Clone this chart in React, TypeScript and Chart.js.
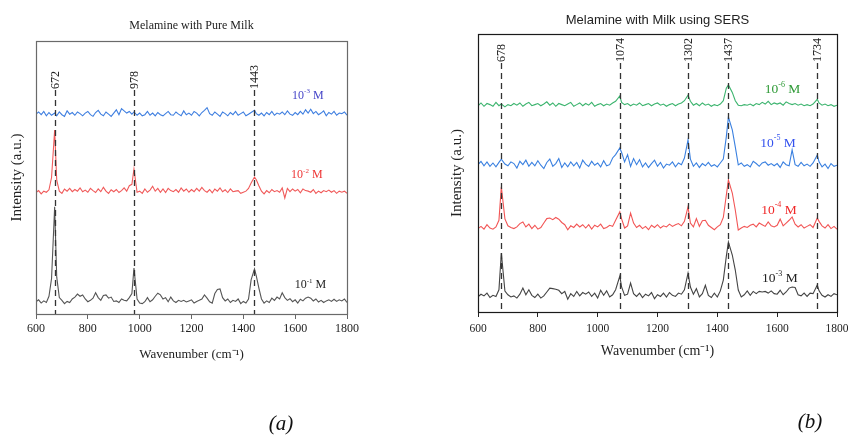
import React, { useEffect, useRef } from "react";
import { Chart, registerables } from "chart.js";

Chart.register(...registerables);

const SERIF = "'Liberation Serif', 'Times New Roman', serif";
const SANS = "'Liberation Sans', Arial, sans-serif";

// ---------- Panel (a): Melamine with Pure Milk ----------
const wavenumbersA = [
  600, 610, 620, 630, 640, 650, 660, 672, 680, 690,
  700, 710, 720, 730, 740, 750, 760, 770, 780, 790,
  800, 810, 820, 830, 840, 850, 860, 870, 880, 890,
  900, 910, 920, 930, 940, 950, 960, 970, 978, 990,
  1000, 1010, 1020, 1030, 1040, 1050, 1060, 1070, 1080, 1090,
  1100, 1110, 1120, 1130, 1140, 1150, 1160, 1170, 1180, 1190,
  1200, 1210, 1220, 1230, 1240, 1250, 1260, 1270, 1280, 1290,
  1300, 1310, 1320, 1330, 1340, 1350, 1360, 1370, 1380, 1390,
  1400, 1410, 1420, 1430, 1443, 1450, 1460, 1470, 1480, 1490,
  1500, 1510, 1520, 1530, 1540, 1550, 1560, 1570, 1580, 1590,
  1600, 1610, 1620, 1630, 1640, 1650, 1660, 1670, 1680, 1690,
  1700, 1710, 1720, 1730, 1740, 1750, 1760, 1770, 1780, 1790,
  1800,
];

const milk_1e1 = [
  4.5, 5.2, 4.0, 4.8, 4.2, 6.5, 13.0, 39.3, 13.5, 6.0,
  5.0, 3.8, 4.6, 4.2, 5.5, 6.2, 7.3, 6.5, 7.0, 5.5,
  4.5, 5.0, 5.8, 7.8, 6.0, 5.0, 6.8, 7.0, 5.8, 6.2,
  4.6, 4.8, 4.2, 5.5, 5.0, 4.8, 6.0, 7.5, 16.8, 5.5,
  4.0, 3.8, 4.5, 6.0, 4.5, 5.2, 6.5, 7.6, 7.0, 5.5,
  6.0, 4.5, 6.2, 4.8, 4.2, 5.0, 4.6, 5.0, 4.4, 4.8,
  5.2, 4.0, 4.6, 5.0, 5.5, 7.0, 5.8, 4.5, 4.0, 7.5,
  9.0, 9.2, 6.0, 4.8, 5.5, 4.2, 5.0, 4.6, 5.5, 3.8,
  4.6, 4.0, 5.5, 12.5, 16.5, 14.0, 9.5, 5.5, 4.0, 4.8,
  4.2, 5.8, 5.0, 6.2, 5.5, 7.8, 6.0, 5.0, 5.6, 4.5,
  5.2, 4.0, 5.4, 4.8, 5.8, 6.2, 5.8, 4.8, 5.5, 4.4,
  5.0, 4.2, 4.8, 5.2, 4.6, 5.4, 4.6, 5.2, 4.8, 5.5,
  4.2,
];

const milk_1e2 = [
  44.5, 45.2, 44.0, 45.0, 44.6, 45.5, 50.0, 67.4, 49.0, 45.0,
  44.2, 45.8, 45.0, 46.0, 44.8, 45.6, 45.0, 46.2, 44.8, 45.4,
  44.6, 46.0, 45.2, 44.5, 45.8, 44.8, 46.4, 45.0, 44.2, 45.5,
  44.8, 45.6, 44.5, 45.2, 46.2, 45.0, 47.0, 47.5, 53.1, 44.6,
  45.0, 44.2, 45.8, 44.6, 45.4, 46.8, 45.0, 46.0, 44.6, 45.8,
  44.5, 46.0, 45.2, 44.8, 45.6, 44.6, 46.2, 45.0, 45.8, 44.6,
  45.6, 44.8, 46.0, 45.0, 46.4, 45.2, 44.6, 45.6, 44.4, 45.8,
  45.0, 46.2, 44.8, 45.5, 44.5, 45.8, 44.8, 45.0, 45.2, 44.2,
  44.6, 45.0, 46.0, 48.0, 50.2, 49.2, 47.0, 45.0, 44.0, 45.2,
  44.4, 45.6, 44.8, 45.2, 44.6, 46.2, 42.5, 46.0, 44.8, 45.8,
  45.0, 45.6, 44.4, 45.8, 45.2, 45.0, 44.6, 45.6, 44.2, 45.0,
  44.4, 45.2, 44.8, 45.4, 44.6, 45.2, 44.2, 45.0, 44.6, 45.0,
  44.2,
];

const milk_1e3 = [
  73.2, 74.0, 73.0, 74.2, 72.6, 73.8, 72.8, 73.6, 72.6, 74.0,
  73.0, 72.4, 74.4, 73.2, 73.8, 72.8, 74.0, 73.4, 72.6, 73.6,
  74.2, 73.0, 72.4, 73.8, 74.6, 73.2, 72.6, 74.0, 73.2, 72.4,
  73.6, 74.8, 73.0, 75.2, 74.4, 73.6, 74.2, 73.2, 74.0, 72.8,
  73.6, 72.6, 73.0, 74.2, 72.8, 73.6, 72.6, 73.8, 73.0, 72.6,
  73.4, 74.2, 73.0, 72.8, 74.0, 73.2, 72.6, 74.4, 73.0, 73.6,
  72.8, 74.2, 73.6, 72.6, 73.8, 74.6, 75.6, 73.4, 72.8, 74.0,
  73.2, 72.4, 74.0, 73.4, 72.6, 73.8, 73.0, 74.2, 72.8, 73.4,
  74.0, 72.6, 73.2, 73.8, 74.6, 73.4, 72.8, 73.6, 72.6, 73.8,
  73.0, 74.2, 72.8, 73.6, 73.2, 74.0, 73.0, 74.4, 73.2, 72.8,
  73.8, 73.0, 74.2, 73.2, 74.8, 73.6, 75.0, 73.4, 74.2, 73.0,
  73.6, 74.4, 72.6, 73.8, 73.2, 74.2, 72.8, 73.6, 73.4, 74.0,
  72.8,
];

const peaksA = [672, 978, 1443];

// ---------- Panel (b): Melamine with Milk using SERS ----------
const wavenumbersB = [
  600, 610, 620, 630, 640, 650, 660, 670, 678, 690,
  700, 710, 720, 730, 740, 750, 760, 770, 780, 790,
  800, 810, 820, 830, 840, 850, 860, 870, 880, 890,
  900, 910, 920, 930, 940, 950, 960, 970, 980, 990,
  1000, 1010, 1020, 1030, 1040, 1050, 1060, 1074, 1080, 1090,
  1100, 1110, 1120, 1130, 1140, 1150, 1160, 1170, 1180, 1190,
  1200, 1210, 1220, 1230, 1240, 1250, 1260, 1270, 1280, 1290,
  1302, 1310, 1320, 1330, 1340, 1350, 1360, 1370, 1380, 1390,
  1400, 1410, 1420, 1430, 1437, 1450, 1460, 1470, 1480, 1490,
  1500, 1510, 1520, 1530, 1540, 1550, 1560, 1570, 1580, 1590,
  1600, 1610, 1620, 1630, 1640, 1650, 1660, 1670, 1680, 1690,
  1700, 1710, 1720, 1734, 1740, 1750, 1760, 1770, 1780, 1790,
  1800,
];

const sers_1e3 = [
  5.5, 6.4, 5.8, 6.8, 5.2, 6.0, 5.6, 8.0, 21.2, 7.5,
  6.2, 5.4, 5.8, 5.0, 6.4, 8.6, 6.2, 8.0, 6.0, 5.2,
  6.4, 5.0, 5.8, 7.2, 8.6, 8.4, 8.2, 7.8, 6.6, 7.4,
  4.6, 6.6, 5.6, 7.4, 5.8, 7.0, 6.4, 7.2, 5.6, 6.8,
  5.0, 7.8, 6.0, 7.6, 5.4, 6.2, 8.0, 12.9, 9.0, 6.0,
  6.4, 10.4, 6.6, 5.6, 6.8, 5.2, 6.4, 5.8, 7.0, 4.8,
  6.2, 5.6, 6.8, 5.4, 7.0, 6.0, 5.6, 6.8, 6.4, 8.0,
  14.0, 9.0, 6.4, 8.4, 5.4, 6.6, 9.6, 6.0, 5.2, 6.8,
  5.4, 7.6, 11.5, 20.0, 25.2, 20.5, 15.1, 7.9, 5.4, 6.2,
  7.6, 6.0, 7.4, 6.6, 7.4, 7.2, 7.4, 6.8, 7.6, 6.6,
  6.4, 7.8, 6.2, 7.2, 8.6, 9.0, 8.8, 6.2, 5.8, 6.8,
  5.6, 6.8, 6.6, 9.7, 7.6, 6.0, 5.4, 6.2, 5.6, 6.6,
  6.2,
];

const sers_1e4 = [
  30.0, 30.8, 29.8, 31.4, 30.2, 29.8, 30.6, 33.0, 45.0, 33.5,
  31.0, 30.4, 30.0, 30.6, 31.8, 32.4, 30.6, 31.6, 30.0, 31.2,
  29.8, 30.4, 32.0, 33.6, 33.8, 33.2, 34.0, 33.4, 32.2, 31.4,
  29.6, 31.0, 30.4, 31.6, 30.6, 31.4, 30.2, 31.4, 29.8, 31.2,
  30.6, 31.6, 30.0, 30.4, 31.2, 30.8, 33.0, 36.0, 33.5, 30.2,
  31.0, 35.6, 32.0, 30.4, 31.2, 30.0, 30.8, 29.6, 31.2, 30.4,
  31.4, 30.2, 31.0, 30.6, 31.6, 30.8, 31.4, 31.8, 31.0, 32.6,
  37.8, 32.0, 30.6, 33.6, 30.8, 32.8, 33.0, 31.2, 30.4, 29.6,
  30.6, 31.4, 34.0, 42.0, 47.5, 42.8, 36.7, 29.5, 30.2, 30.8,
  30.4, 31.2, 31.6, 30.6, 32.0, 31.4, 30.8, 32.4, 31.0, 30.6,
  31.2, 33.4, 31.0, 32.0, 33.0, 34.2, 31.6, 30.6, 31.4, 30.2,
  30.8, 31.4, 30.4, 33.8, 32.6, 31.0, 30.2, 31.4, 30.0, 30.8,
  29.8,
];

const sers_1e5 = [
  53.0, 54.2, 52.6, 54.0, 52.4, 53.6, 52.2, 53.8, 55.0, 53.2,
  52.6, 54.0, 53.4, 51.8, 54.2, 53.0, 54.6, 52.4, 53.8, 52.6,
  54.4, 52.8, 51.6, 53.8, 55.0, 52.4, 53.4, 55.2, 52.0, 53.6,
  52.2, 54.0, 52.6, 53.8, 51.8, 54.6, 53.2, 52.4, 54.2, 52.8,
  53.6, 52.2, 54.4, 52.6, 53.0, 55.4, 56.6, 59.0, 57.4, 54.0,
  56.6, 52.4, 55.2, 53.0, 54.8, 52.2, 53.6, 52.0, 53.4, 54.6,
  52.4, 53.8, 51.8, 53.2, 52.8, 54.0, 52.2, 53.6, 53.0, 55.4,
  61.9, 55.0, 52.4, 53.6, 52.0, 53.4, 52.6, 53.8, 52.4, 53.0,
  52.2, 53.6, 55.0, 63.0, 70.1, 65.5, 59.4, 52.9, 53.6, 52.4,
  53.0, 52.2, 54.2, 53.4, 52.4, 53.6, 54.0, 52.8, 53.4, 52.6,
  53.4, 52.0, 54.0, 53.0, 52.6, 58.3, 53.0, 52.4, 53.8, 52.6,
  53.2, 52.4, 53.6, 56.5, 54.0, 52.2, 53.2, 51.6, 53.4, 52.4,
  52.8,
];

const sers_1e6 = [
  74.2, 75.2, 74.0, 75.0, 74.6, 74.0, 75.4, 74.2, 74.8, 73.8,
  74.6, 74.2, 75.0, 74.4, 75.2, 74.0, 74.8, 75.4, 74.2, 74.6,
  75.0, 74.2, 74.8, 75.6, 74.4, 75.2, 74.0, 75.0, 74.6, 74.2,
  74.8, 75.4, 74.0, 74.6, 75.2, 74.2, 75.0, 74.4, 75.4, 74.0,
  74.6, 75.0, 74.2, 74.8, 74.4, 75.2, 75.8, 77.7, 75.4, 74.6,
  75.0, 74.2, 74.8, 74.4, 75.2, 74.2, 74.6, 75.0, 74.2, 74.8,
  75.2, 74.4, 74.8, 74.0, 74.6, 75.0, 74.2, 74.8, 75.2, 76.0,
  78.0, 75.8, 74.4, 75.0, 74.2, 75.2, 74.4, 74.8, 74.0, 74.6,
  74.2, 74.8, 76.0, 80.5, 81.7, 79.0, 76.0, 74.4, 74.2, 74.6,
  74.4, 74.8, 74.2, 75.0, 74.6, 75.4, 74.8, 75.8, 74.6, 75.2,
  74.8, 75.2, 74.4, 75.6, 75.0, 74.6, 75.0, 74.4, 74.8, 74.2,
  74.6, 74.2, 74.8, 76.5, 75.2, 74.4, 74.8, 74.2, 74.6, 74.0,
  74.4,
];

const peaksB = [678, 1074, 1302, 1437, 1734];

const xTicks = [600, 800, 1000, 1200, 1400, 1600, 1800];

type ConcLabel = { exp: string; x: number; y: number; color: string };

const concLabelsA: ConcLabel[] = [
  { exp: "-3", x: 1649, y: 79.9, color: "#4646c8" },
  { exp: "-2", x: 1645, y: 50.9, color: "#ee3535" },
  { exp: "-1", x: 1659, y: 10.6, color: "#222222" },
];

const concLabelsB: ConcLabel[] = [
  { exp: "-6", x: 1618, y: 79.9, color: "#2e9a36" },
  { exp: "-5", x: 1603, y: 60.8, color: "#3452ee" },
  { exp: "-4", x: 1606, y: 36.7, color: "#f02828" },
  { exp: "-3", x: 1609, y: 11.9, color: "#222222" },
];

function toPoints(xs: number[], ys: number[]) {
  return xs.map((x, i) => ({ x, y: ys[i] }));
}

const decorPlugin = {
  id: "decor",
  afterDatasetsDraw(chart: any) {
    const o = chart.options.plugins.decor;
    if (!o) return;
    const ctx = chart.ctx as CanvasRenderingContext2D;
    const xs = chart.scales.x;
    const ys = chart.scales.y;
    const area = chart.chartArea;
    ctx.save();
    // dashed peak markers + rotated labels
    const yStart = ys.getPixelForValue(o.peakLabelValue);
    for (const p of o.peaks as number[]) {
      const px = Math.round(xs.getPixelForValue(p)) + 0.5;
      ctx.strokeStyle = "#333333";
      ctx.lineWidth = 1.3;
      ctx.setLineDash([6, 4]);
      ctx.beginPath();
      ctx.moveTo(px, yStart + 1);
      ctx.lineTo(px, area.bottom);
      ctx.stroke();
      ctx.setLineDash([]);
      ctx.save();
      ctx.translate(px, yStart);
      ctx.rotate(-Math.PI / 2);
      ctx.font = `${o.peakFontSize}px ${SERIF}`;
      ctx.fillStyle = "#222222";
      ctx.textAlign = "left";
      ctx.textBaseline = "middle";
      ctx.fillText(String(p), 0, 0);
      ctx.restore();
    }
    // concentration labels with superscript
    for (const lab of o.concLabels as ConcLabel[]) {
      const size = o.concFontSize;
      const base = `${size}px ${SERIF}`;
      const sup = `${Math.round(size * 0.62)}px ${SERIF}`;
      ctx.font = base;
      const w1 = ctx.measureText("10").width;
      ctx.font = sup;
      const w2 = ctx.measureText(lab.exp).width;
      ctx.font = base;
      const w3 = ctx.measureText(" M").width;
      let x = xs.getPixelForValue(lab.x) - (w1 + w2 + w3) / 2;
      const y = ys.getPixelForValue(lab.y);
      ctx.fillStyle = lab.color;
      ctx.textAlign = "left";
      ctx.textBaseline = "middle";
      ctx.font = base;
      ctx.fillText("10", x, y);
      x += w1;
      ctx.font = sup;
      ctx.fillText(lab.exp, x, y - size * 0.36);
      x += w2;
      ctx.font = base;
      ctx.fillText(" M", x, y);
    }
    // plot box
    ctx.strokeStyle = o.boxColor;
    ctx.lineWidth = o.boxWidth;
    ctx.strokeRect(
      Math.round(area.left) + 0.5,
      Math.round(area.top) + 0.5,
      Math.round(area.right - area.left),
      Math.round(area.bottom - area.top)
    );
    // panel tag
    ctx.font = `italic 21px ${SERIF}`;
    ctx.fillStyle = "#111111";
    ctx.textAlign = "center";
    ctx.textBaseline = "middle";
    ctx.fillText(o.tag, o.tagX, o.tagY);
    ctx.restore();
  },
};

function makeConfig(panel: "a" | "b"): any {
  const isA = panel === "a";
  const datasets = isA
    ? [
        { data: toPoints(wavenumbersA, milk_1e3), borderColor: "#3f7fe0" },
        { data: toPoints(wavenumbersA, milk_1e2), borderColor: "#f05a5a" },
        { data: toPoints(wavenumbersA, milk_1e1), borderColor: "#555555" },
      ]
    : [
        { data: toPoints(wavenumbersB, sers_1e6), borderColor: "#3cb46e" },
        { data: toPoints(wavenumbersB, sers_1e5), borderColor: "#3a80e0" },
        { data: toPoints(wavenumbersB, sers_1e4), borderColor: "#f25555" },
        { data: toPoints(wavenumbersB, sers_1e3), borderColor: "#444444" },
      ];
  const axisColor = isA ? "#666666" : "#222222";
  return {
    type: "line",
    data: {
      datasets: datasets.map((d) => ({
        ...d,
        borderWidth: 1.1,
        pointRadius: 0,
        tension: 0,
        fill: false,
      })),
    },
    options: {
      responsive: false,
      animation: false,
      events: [],
      layout: { padding: { left: 0, top: 0, bottom: 0, right: isA ? 77 : 11 } },
      plugins: {
        legend: { display: false },
        tooltip: { enabled: false },
        title: {
          display: true,
          fullSize: false,
          text: isA ? "Melamine with Pure Milk" : "Melamine with Milk using SERS",
          color: "#222222",
          font: isA
            ? { family: SERIF, size: 12, weight: "normal" }
            : { family: SANS, size: 13, weight: "normal" },
          padding: isA ? { top: 19, bottom: 7.6 } : { top: 12.2, bottom: 6.2 },
        },
        decor: {
          peaks: isA ? peaksA : peaksB,
          peakLabelValue: isA ? 82.4 : 89.9,
          peakFontSize: 12,
          concLabels: isA ? concLabelsA : concLabelsB,
          concFontSize: isA ? 12 : 13.5,
          boxColor: isA ? "#6a6a6a" : "#1a1a1a",
          boxWidth: 1.2,
          tag: isA ? "(a)" : "(b)",
          tagX: isA ? 281 : 386,
          tagY: isA ? 424 : 422,
        },
      },
      scales: {
        x: {
          type: "linear",
          min: 600,
          max: 1800,
          afterBuildTicks: (s: any) => {
            s.ticks = xTicks.map((v) => ({ value: v }));
          },
          ticks: {
            color: "#222222",
            font: { family: SERIF, size: isA ? 12 : 11.5 },
            padding: isA ? 3 : 5,
            maxRotation: 0,
            autoSkip: false,
            callback: (v: any) => String(v),
          },
          grid: {
            display: true,
            drawOnChartArea: false,
            drawTicks: true,
            tickLength: 5,
            color: axisColor,
            tickColor: axisColor,
          },
          border: { display: false },
          title: {
            display: true,
            text: "Wavenumber (cm\u207B\u00B9)",
            color: "#222222",
            font: { family: SERIF, size: isA ? 13 : 14 },
            padding: { top: 0, bottom: isA ? 72.2 : 74.9 },
          },
          afterFit: (s: any) => {
            s.height = isA ? 121 : 123;
            s.paddingLeft = 0;
            s.paddingRight = 0;
          },
        },
        y: {
          min: 0,
          max: 100,
          ticks: { display: false },
          grid: { display: false },
          border: { display: false },
          title: {
            display: true,
            text: "Intensity (a.u.)",
            color: "#222222",
            font: { family: SERIF, size: 15 },
            padding: { top: isA ? 8 : 24.5, bottom: 0 },
          },
          afterFit: (s: any) => {
            s.width = isA ? 36 : 54;
          },
        },
      },
    },
    plugins: [decorPlugin],
  };
}

function Panel({ panel, left }: { panel: "a" | "b"; left: number }) {
  const ref = useRef<HTMLCanvasElement | null>(null);
  useEffect(() => {
    if (!ref.current) return;
    const chart = new Chart(ref.current, makeConfig(panel));
    return () => chart.destroy();
  }, [panel]);
  return (
    <canvas
      ref={ref}
      width={424}
      height={435}
      style={{ position: "absolute", left, top: 0, width: 424, height: 435 }}
    />
  );
}

export default function App() {
  return (
    <div
      style={{
        position: "fixed",
        left: 0,
        top: 0,
        width: 848,
        height: 435,
        background: "#ffffff",
        overflow: "hidden",
      }}
    >
      <Panel panel="a" left={0} />
      <Panel panel="b" left={424} />
    </div>
  );
}
